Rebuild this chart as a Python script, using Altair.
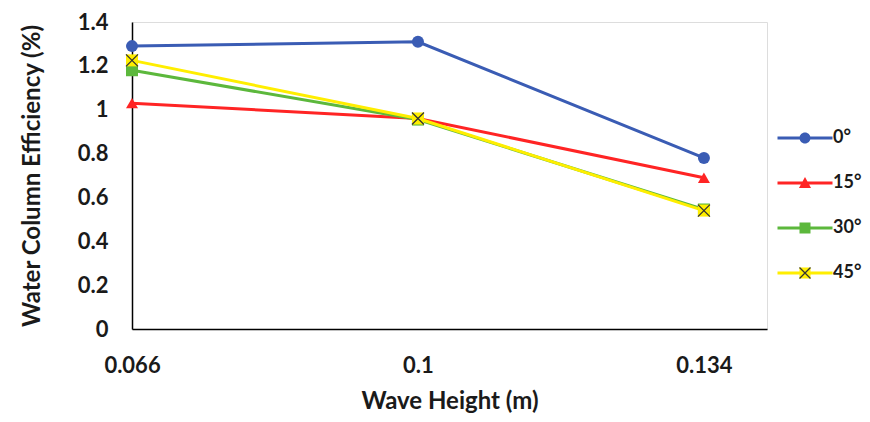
import altair as alt
import pandas as pd

# ---- data ----
wave_height = [0.066, 0.1, 0.134]
series = ["0°", "15°", "30°", "45°"]
eff_0 = [1.29, 1.31, 0.78]
eff_15 = [1.03, 0.96, 0.69]
eff_30 = [1.18, 0.955, 0.545]
eff_45 = [1.225, 0.96, 0.54]
y_ticks = [0, 0.2, 0.4, 0.6, 0.8, 1.0, 1.2, 1.4]

colors = ["#3a5cb4", "#ff2424", "#5cb83c", "#ffee00"]

rows = []
for s, vals in zip(series, [eff_0, eff_15, eff_30, eff_45]):
    for x, v in zip(wave_height, vals):
        rows.append({"height": x, "eff": v, "series": s})
df = pd.DataFrame(rows)

FONT = "Lato"
TXT = "#1a1a1a"

x_enc = alt.X(
    "height:Q",
    scale=alt.Scale(domain=[0.066, 0.1415], nice=False, zero=False),
    axis=alt.Axis(
        values=wave_height, labelExpr="format(datum.value, '.3~g')", title="Wave Height (m)", grid=False,
        ticks=False, labelPadding=26, labelFont=FONT, labelFontSize=22,
        labelFontWeight="bold", labelColor=TXT, titleFont=FONT, titleFontSize=24,
        titleFontWeight="bold", titleColor=TXT, titlePadding=13,
        domainColor="#000", domainWidth=1.5, labelFlush=False,
    ),
)
y_enc = alt.Y(
    "eff:Q",
    scale=alt.Scale(domain=[0, 1.4], nice=False),
    axis=alt.Axis(
        values=y_ticks, labelExpr="format(datum.value, '.2~g')", title="Water Column Efficiency (%)", grid=False,
        ticks=False, labelPadding=24, labelFont=FONT, labelFontSize=22,
        labelFontWeight="bold", labelColor=TXT, titleFont=FONT, titleFontSize=24,
        titleFontWeight="bold", titleColor=TXT, titlePadding=33,
        domainColor="#000", domainWidth=1.5,
    ),
)

color_scale = alt.Scale(domain=series, range=colors)

lines = alt.Chart(df).mark_line(strokeWidth=3).encode(
    x=x_enc, y=y_enc,
    color=alt.Color("series:N", scale=color_scale, legend=None),
)

points = alt.Chart(df).mark_point(filled=True, size=144, opacity=1).encode(
    x=x_enc, y=y_enc,
    color=alt.Color("series:N", scale=color_scale, legend=None),
    shape=alt.Shape("series:N", scale=alt.Scale(domain=series, range=["circle", "triangle-up", "square", "square"]), legend=None),
)

XPATH = "M-1,-1L1,1M1,-1L-1,1"
xmarks = alt.Chart(df).transform_filter(alt.datum.series == "45°").mark_point(
    shape=XPATH, filled=False, size=144, stroke="#333", strokeWidth=1.3, opacity=1
).encode(x=x_enc, y=y_enc)

# legend symbols: line segment + marker (custom paths in -1..1 units)
LINE = "M-5,-0.27H5V0.27H-5Z"
leg_paths = [
    LINE + "M1,0A1,1 0 1,1 -1,0A1,1 0 1,1 1,0Z",
    LINE + "M0,-1.1L1.1,0.9H-1.1Z",
    LINE + "M-1,-1H1V1H-1Z",
    LINE + "M-1,-1H1V1H-1Z",
]
leg_common = dict(
    orient="none", legendX=664, legendY=107, title=None, padding=0,
    labelFont=FONT, labelFontSize=18, labelFontWeight="bold",
    rowPadding=27, labelOffset=19, symbolSize=121,
)
legB = alt.Legend(labelColor=TXT, **leg_common)
legend_b = alt.Chart(df).transform_filter("false").mark_point(filled=True, size=121, opacity=1).encode(
    color=alt.Color("series:N", scale=alt.Scale(domain=series, range=colors), legend=legB),
    shape=alt.Shape("series:N", scale=alt.Scale(domain=series, range=leg_paths), legend=legB),
)

XLEG = "M-5,-0.27M5,0.27" + XPATH
legC = alt.Legend(labelColor="transparent", symbolType=XLEG, symbolStrokeWidth=1.3,
                  symbolFillColor="transparent", **leg_common)
legend_c = alt.Chart(df).transform_filter("false").mark_point(
    filled=False, size=121, shape=XLEG, strokeWidth=1.3, opacity=1
).encode(
    stroke=alt.Stroke("series:N", scale=alt.Scale(domain=series, range=["transparent", "transparent", "transparent", "#333"]), legend=legC),
)

chart = alt.layer(lines, points, xmarks, legend_b, legend_c).resolve_scale(
    color="independent", shape="independent", stroke="independent"
).properties(
    width=635, height=307,
    autosize=alt.AutoSizeParams(type="none"),
    padding={"left": 124, "top": 14, "right": 95, "bottom": 85},
).configure_view(stroke=None).configure(background="white")

chart.save("out.html", embed_options={"renderer": "svg", "actions": False})
